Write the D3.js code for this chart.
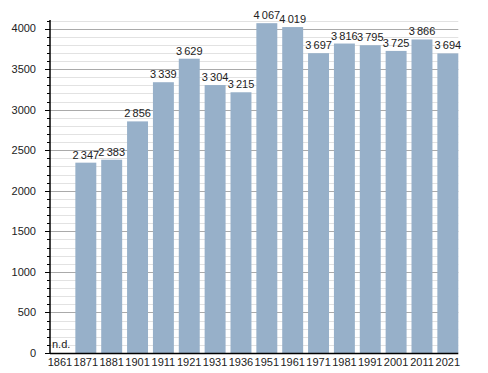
<!DOCTYPE html>
<html>
<head>
<meta charset="utf-8">
<script src="https://cdn.jsdelivr.net/npm/d3@7"></script>
<style>
  body { margin: 0; background: #fff; }
  text { font-family: "Liberation Sans", Arial, sans-serif; font-size: 11px; fill: #222; }
</style>
</head>
<body>
<div id="chart"></div>
<script>
const years = ["1861", "1871", "1881", "1901", "1911", "1921", "1931", "1936", "1951", "1961", "1971", "1981", "1991", "2001", "2011", "2021"];
const population = [null, 2347, 2383, 2856, 3339, 3629, 3304, 3215, 4067, 4019, 3697, 3816, 3795, 3725, 3866, 3694];
const yTicks = [0, 500, 1000, 1500, 2000, 2500, 3000, 3500, 4000];

const w = 488, h = 373;
const m = {l: 50, r: 30, t: 20, b: 20};
const data = years.map((y, i) => ({year: y, value: population[i]}));

const svg = d3.select("#chart").append("svg").attr("width", w).attr("height", h);

const y = d3.scaleLinear().domain([0, 4100]).range([353, 20.5]);
const x = d3.scaleBand().domain(years).range([49.5, 458.3]).paddingInner(0.19).paddingOuter(0);
const gridEnd = 458.3;

// grid
svg.append("g")
  .selectAll("line")
  .data(d3.range(100, 4101, 100))
  .join("line")
  .attr("x1", m.l).attr("x2", gridEnd)
  .attr("y1", d => Math.round(y(d)) + 0.5).attr("y2", d => Math.round(y(d)) + 0.5)
  .attr("stroke", d => d % 500 === 0 ? "#aaa" : "#e2e2e2")
  .attr("stroke-width", 1);

// bars
svg.append("g")
  .selectAll("rect")
  .data(data.filter(d => d.value != null))
  .join("rect")
  .attr("x", d => x(d.year))
  .attr("y", d => y(d.value))
  .attr("width", x.bandwidth())
  .attr("height", d => y(0) - y(d.value))
  .attr("fill", "#97b0c9");

// value labels
const fmt = d3.formatLocale({thousands: "\u2009", grouping: [3], decimal: ",", currency: ["", ""]}).format(",d");
svg.append("g")
  .selectAll("text")
  .data(data)
  .join("text")
  .attr("x", d => d.value == null ? x(d.year) + 2.5 : x(d.year) + x.bandwidth() / 2)
  .attr("y", d => d.value == null ? y(0) - 5 : y(d.value) - 4)
  .attr("text-anchor", d => d.value == null ? "start" : "middle")
  .text(d => d.value == null ? "n.d." : fmt(d.value));

// y axis
const yAxis = svg.append("g").attr("transform", `translate(${m.l},0)`);
yAxis.append("g")
  .selectAll("line")
  .data(d3.range(0, 4101, 100))
  .join("line")
  .attr("x1", d => d % 500 === 0 ? -5 : -3).attr("x2", 0)
  .attr("y1", d => Math.round(y(d)) + 0.5).attr("y2", d => Math.round(y(d)) + 0.5)
  .attr("stroke", "#000");
yAxis.append("line")
  .attr("x1", 0).attr("x2", 0)
  .attr("y1", 20).attr("y2", y(0) + 1)
  .attr("stroke", "#000").attr("stroke-width", 1.5);
yAxis.append("g")
  .selectAll("text")
  .data(yTicks)
  .join("text")
  .attr("x", -14)
  .attr("y", d => y(d))
  .attr("dy", "0.35em")
  .attr("text-anchor", "end")
  .text(d => d);

// x axis
svg.append("line")
  .attr("x1", m.l).attr("x2", gridEnd)
  .attr("y1", y(0) + 0.5).attr("y2", y(0) + 0.5)
  .attr("stroke", "#000").attr("stroke-width", 1.5);
svg.append("g")
  .selectAll("text")
  .data(years)
  .join("text")
  .attr("x", d => x(d) + x.bandwidth() / 2)
  .attr("y", 366)
  .attr("text-anchor", "middle")
  .text(d => d);
</script>
</body>
</html>
